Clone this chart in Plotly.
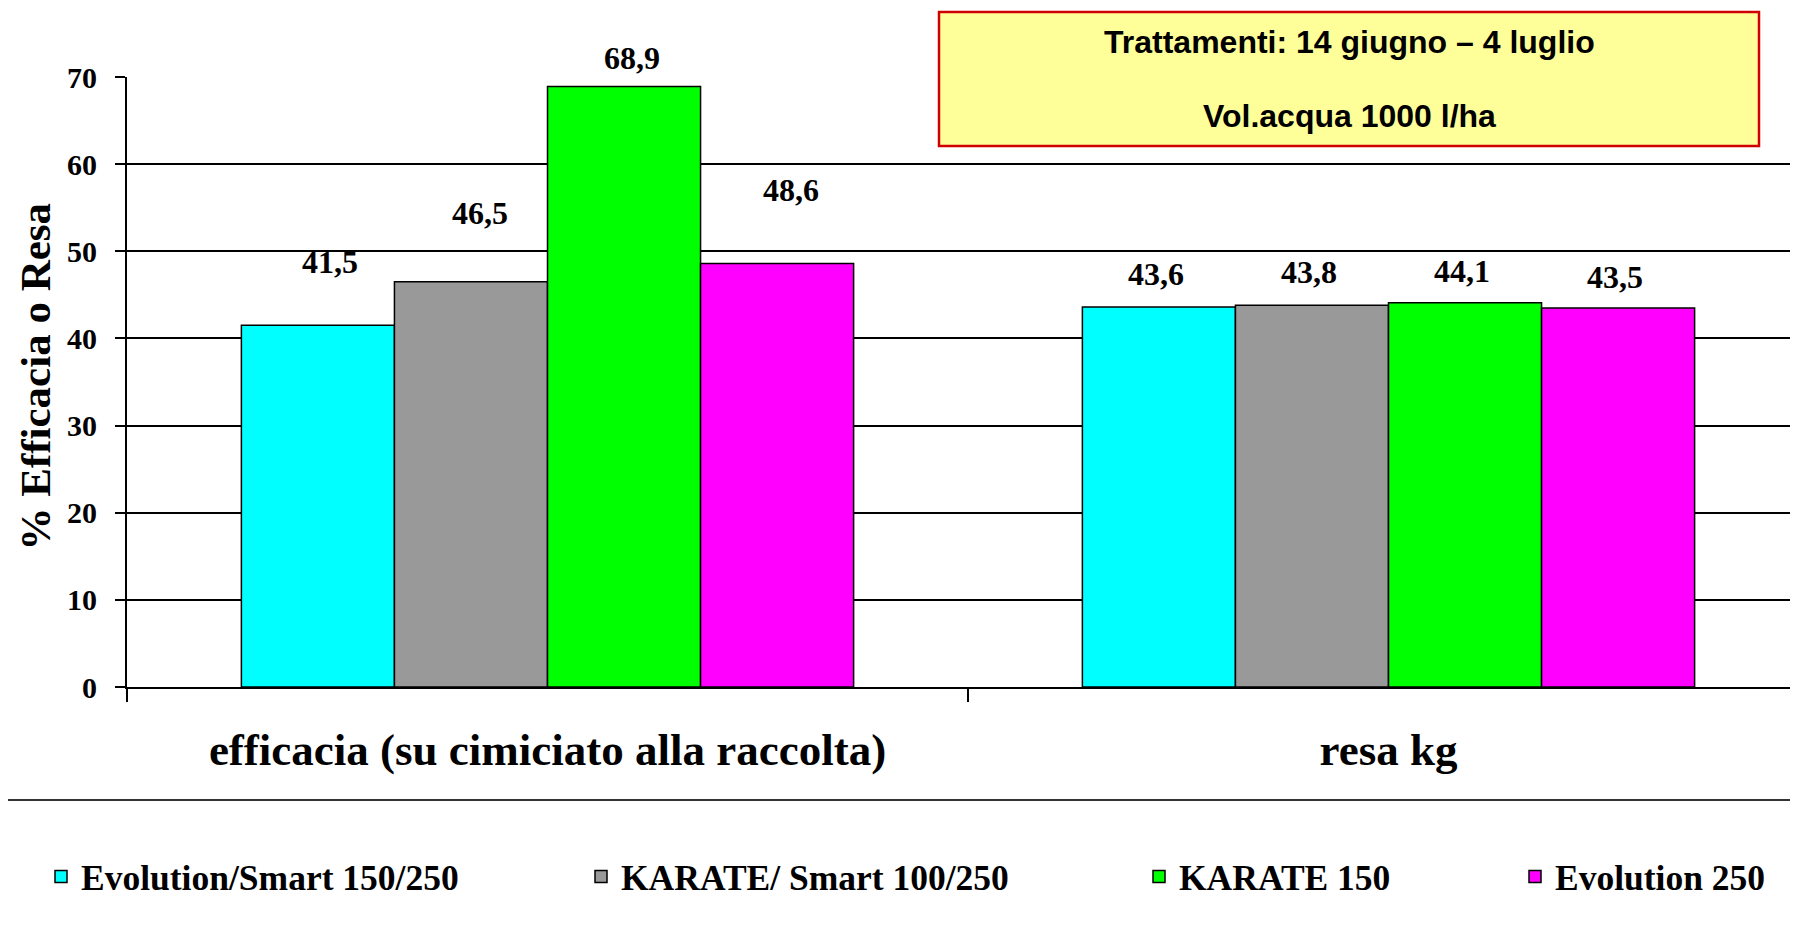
import plotly.graph_objects as go

# ---- data ----
categories = ["efficacia (su cimiciato alla raccolta)", "resa kg"]
series_names = ["Evolution/Smart 150/250", "KARATE/ Smart 100/250", "KARATE 150", "Evolution 250"]
series_values = [
    [41.5, 43.6],
    [46.5, 43.8],
    [68.9, 44.1],
    [48.6, 43.5],
]
series_colors = ["#00FFFF", "#999999", "#00FF00", "#FF00FF"]
y_ticks = [0, 10, 20, 30, 40, 50, 60, 70]
box_lines = ["Trattamenti: 14 giugno \u2013 4 luglio", "Vol.acqua 1000 l/ha"]
y_title = "% Efficacia o Resa"

# label offsets (pixels above bar top, horizontal nudge) as in the original slide
label_yshift = [[63, 33], [69, 33], [29, 32], [73, 31]]
label_xshift = [[12, -3], [9, -3], [8, -3], [14, -3]]

# ---- layout geometry ----
OFF = 8                      # page body margin
W, H = 1798 - OFF, 947 - OFF  # figure size
L, T, B = 127 - OFF, 77 - OFF, 687 - OFF
PW, PH = W - L, B - T
BARGAP = 0.272
SEP_X = 968 - OFF  # category boundary in figure pixels


def px_x(p):
    """reference-page pixel -> paper x"""
    return (p - OFF - L) / PW


def px_y(p):
    """reference-page pixel -> paper y"""
    return (B - (p - OFF)) / PH


SERIF = "Liberation Serif, Times New Roman, serif"
SANS = "Liberation Sans, Arial, sans-serif"

fig = go.Figure()
legend_ids = ["legend", "legend2", "legend3", "legend4"]
for i, (name, vals, col) in enumerate(zip(series_names, series_values, series_colors)):
    fig.add_trace(go.Bar(
        x=categories, y=vals, name=name,
        marker=dict(color=col, line=dict(color="black", width=1.5)),
        legend=legend_ids[i],
        hoverinfo="x+y+name",
    ))

# data labels
ns = len(series_names)
bw = (1 - BARGAP) / ns
for si, vals in enumerate(series_values):
    for ci, v in enumerate(vals):
        fig.add_annotation(
            x=ci + (si - (ns - 1) / 2) * bw, y=v, xref="x", yref="y",
            text=f"{v:.1f}".replace(".", ","), showarrow=False,
            yanchor="middle", xanchor="center",
            yshift=label_yshift[si][ci], xshift=label_xshift[si][ci],
            font=dict(family=SERIF, size=32, color="black", weight="bold"),
        )

# y-axis title
fig.add_annotation(
    x=px_x(OFF + 1), y=px_y(377), xref="paper", yref="paper",
    text=y_title, textangle=-90, showarrow=False,
    xanchor="left", yanchor="middle",
    font=dict(family=SERIF, size=43, color="black", weight="bold"),
)

# info box
fig.add_shape(type="rect", xref="paper", yref="paper",
              x0=px_x(939), x1=px_x(1759), y0=px_y(146), y1=px_y(12),
              fillcolor="#FFFF99", line=dict(color="#D00000", width=2.5), layer="above")
for txt, yc in zip(box_lines, [42, 116]):
    fig.add_annotation(x=px_x(1349), y=px_y(yc), xref="paper", yref="paper",
                       text=txt, showarrow=False, xanchor="center", yanchor="middle",
                       font=dict(family=SANS, size=32, color="black", weight="bold"))

# separator line above legend
fig.add_shape(type="line", xref="paper", yref="paper",
              x0=px_x(0), x1=px_x(1798 + OFF), y0=px_y(800), y1=px_y(800),
              line=dict(color="#333333", width=2))

legend_font = dict(family=SERIF, size=35.5, color="black", weight="bold")
legend_text_x = [81, 621, 1179, 1555]
layout_legends = {}
for lid, tx in zip(legend_ids, legend_text_x):
    layout_legends[lid] = dict(
        orientation="h", xref="container", yref="container",
        x=(tx - OFF - 40) / W, y=1 - (877 - OFF) / H, xanchor="left", yanchor="middle",
        font=legend_font, bgcolor="rgba(0,0,0,0)", borderwidth=0,
    )

fig.update_layout(
    width=W, height=H,
    margin=dict(l=L, r=0, t=T, b=H - B, pad=0),
    paper_bgcolor="white", plot_bgcolor="white",
    barmode="group", bargap=BARGAP, bargroupgap=0,
    showlegend=True,
    **layout_legends,
)

fig.update_xaxes(
    type="category", range=[-0.5, -0.5 + PW / (SEP_X - L)],
    showline=True, linecolor="black", linewidth=2,
    ticks="outside", tickson="boundaries", ticklen=13, tickwidth=1.5, tickcolor="black",
    tickfont=dict(family=SERIF, size=45, color="black", weight="bold"),
    ticklabelstandoff=22, showgrid=False, zeroline=False,
)
fig.update_yaxes(
    range=[0, 70], tickvals=y_ticks, ticktext=[str(t) for t in y_ticks],
    showline=True, linecolor="black", linewidth=2,
    showgrid=True, gridcolor="black", gridwidth=2,
    ticks="outside", ticklen=10, tickwidth=2, tickcolor="black",
    tickfont=dict(family=SERIF, size=30, color="black", weight="bold"),
    ticklabelstandoff=12, zeroline=False,
)

fig.write_html("out.html")
